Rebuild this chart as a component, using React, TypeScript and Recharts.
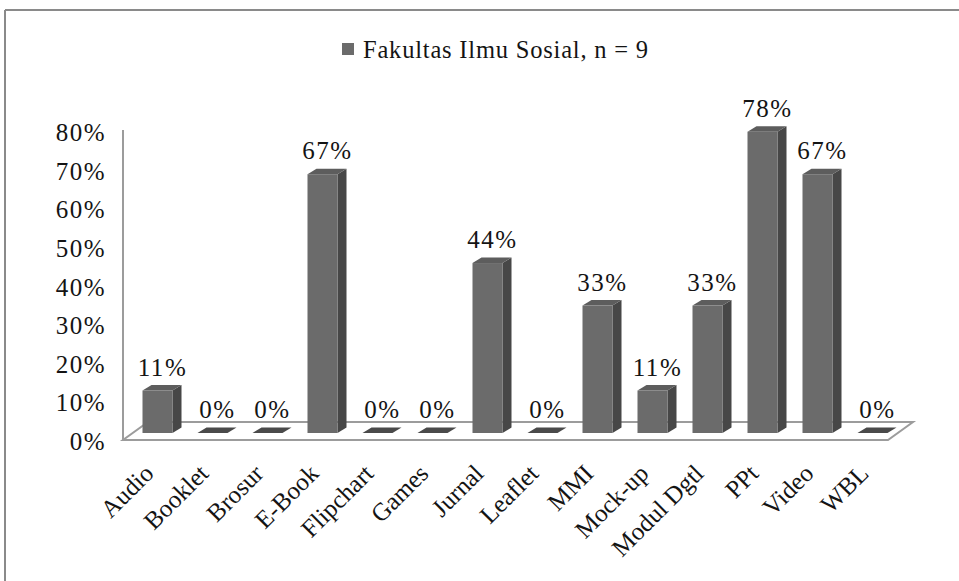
import { BarChart, Bar, XAxis, YAxis, LabelList } from 'recharts'

const seriesName = 'Fakultas Ilmu Sosial, n = 9'
const categories = [
  'Audio', 'Booklet', 'Brosur', 'E-Book', 'Flipchart', 'Games', 'Jurnal',
  'Leaflet', 'MMI', 'Mock-up', 'Modul Dgtl', 'PPt', 'Video', 'WBL',
]
const percentages = [11, 0, 0, 67, 0, 0, 44, 0, 33, 11, 33, 78, 67, 0]
const yTicks = [0, 10, 20, 30, 40, 50, 60, 70, 80]

const data = categories.map((name, i) => ({ name, value: percentages[i] }))

const W = 959
const H = 581
const SERIF = "'Liberation Serif', 'Times New Roman', serif"
const INK = '#141414'
const FRONT = '#6b6b6b'
const SIDE = '#474747'
const TOP = '#5d5d5d'
const FLAT = '#4a4a4a'
const GRID = '#9c9c9c'

// fake 3D: bars sit a bit behind the axis front edge
const LIFT = 9
const DX = 9
const DY = 5.5

const margin = { top: 133, right: 59.5, bottom: 9, left: 4.5 }

// serif text, letter-spaced a little since the scanned original looks stretched
const Txt = ({ x, y, size, spacing = 1.5, anchor = 'middle', children }: any) => (
  <text
    x={x}
    y={y}
    textAnchor={anchor}
    fontFamily={SERIF}
    fontSize={size}
    letterSpacing={spacing}
    fill={INK}
  >
    {children}
  </text>
)

const YTick = ({ y, payload }: any) => (
  <Txt x={106} y={y + 8} size={25} anchor="end">
    {payload.value}%
  </Txt>
)

const XTick = ({ x, payload }: any) => (
  <text
    transform={`translate(${x - 2},475) rotate(-45)`}
    textAnchor="end"
    fontFamily={SERIF}
    fontSize={25}
    fill={INK}
  >
    {payload.value}
  </text>
)

const ValueLabel = ({ x, y, width, value }: any) => (
  <Txt x={Number(x) + Number(width) / 2 + 5} y={Number(y) - LIFT - 23 + 8} size={25}>
    {value}%
  </Txt>
)

const Bar3D = ({ x, y, width, height }: any) => {
  const top = y - LIFT
  const bottom = y + height - LIFT
  if (height < 0.5) {
    return (
      <polygon
        points={`${x},${bottom} ${x + width},${bottom} ${x + width + DX},${bottom - DY} ${x + DX},${bottom - DY}`}
        fill={FLAT}
      />
    )
  }
  return (
    <g>
      <polygon
        points={`${x + width},${top} ${x + width + DX},${top - DY} ${x + width + DX},${bottom - DY} ${x + width},${bottom}`}
        fill={SIDE}
      />
      <polygon
        points={`${x},${top} ${x + DX},${top - DY} ${x + width + DX},${top - DY} ${x + width},${top}`}
        fill={TOP}
      />
      <rect x={x} y={top} width={width} height={height} fill={FRONT} />
    </g>
  )
}

const Backdrop = () => (
  <svg width={W} height={H} style={{ position: 'absolute', left: 0, top: 0 }}>
    {/* frame (only top and left visible in the crop) */}
    <line x1={5} y1={10} x2={W} y2={10} stroke="#8a8a8a" strokeWidth={2} />
    <line x1={5} y1={10} x2={5} y2={H} stroke="#8a8a8a" strokeWidth={2} />
    {/* legend */}
    <rect x={342} y={43} width={12} height={12} fill={FRONT} />
    <Txt x={363} y={58} size={24.5} spacing={0.8} anchor="start">
      {seriesName}
    </Txt>
    {/* floor */}
    <polygon points="123,440 888,440 913,422 148,422" fill="#fff" stroke={GRID} strokeWidth={2} />
    <line x1={123} y1={130} x2={123} y2={440} stroke={GRID} strokeWidth={2} />
  </svg>
)

export default function App() {
  return (
    <div style={{ position: 'absolute', left: 0, top: 0, width: W, height: H, background: '#fff' }}>
      <Backdrop />
      <div style={{ position: 'absolute', left: 0, top: 0 }}>
        <BarChart width={W} height={H} data={data} margin={margin} barSize={30}>
          <XAxis
            dataKey="name"
            interval={0}
            height={130}
            axisLine={false}
            tickLine={false}
            tick={<XTick />}
          />
          <YAxis
            domain={[0, 80]}
            ticks={yTicks}
            width={125}
            axisLine={false}
            tickLine={false}
            tick={<YTick />}
          />
          <Bar dataKey="value" shape={<Bar3D />} isAnimationActive={false}>
            <LabelList dataKey="value" content={<ValueLabel />} />
          </Bar>
        </BarChart>
      </div>
    </div>
  )
}
